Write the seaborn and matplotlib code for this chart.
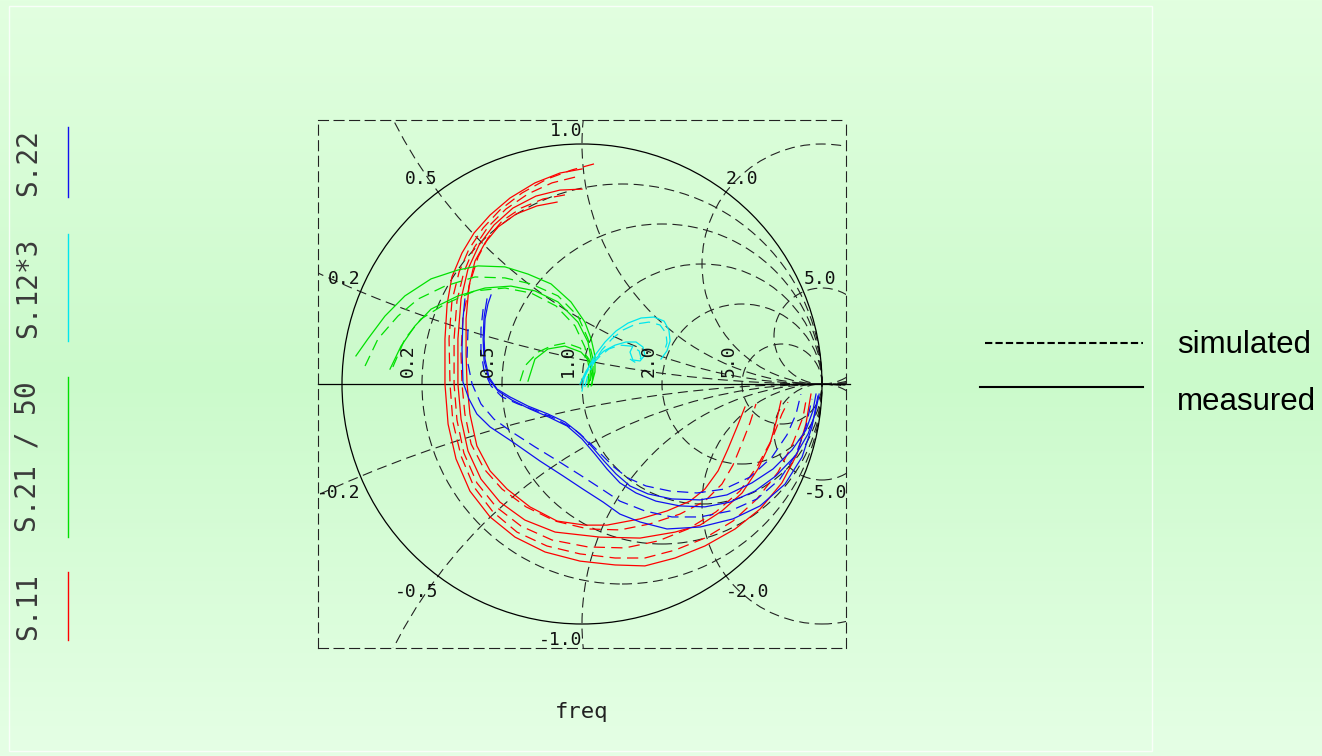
import numpy as np
import pandas as pd
import matplotlib
matplotlib.use("Agg")
import matplotlib.pyplot as plt
from matplotlib.patches import Circle, Rectangle
from matplotlib.lines import Line2D
import seaborn as sns

s11_meas_1 = [(0.0, 0.896), (-0.092, 0.879), (-0.196, 0.838), (-0.300, 0.775), (-0.383, 0.704),
              (-0.450, 0.629), (-0.500, 0.546), (-0.542, 0.446), (-0.562, 0.333), (-0.571, 0.188),
              (-0.571, 0.0), (-0.558, -0.167), (-0.525, -0.312), (-0.467, -0.446), (-0.383, -0.554),
              (-0.279, -0.638), (-0.154, -0.700), (-0.008, -0.738), (0.138, -0.754), (0.262, -0.758),
              (0.388, -0.725), (0.512, -0.675), (0.638, -0.604), (0.742, -0.521), (0.833, -0.412),
              (0.896, -0.292), (0.933, -0.167), (0.954, -0.042)]
s11_sim_1 = [(0.050, 0.917), (-0.042, 0.892), (-0.146, 0.854), (-0.250, 0.796), (-0.342, 0.725),
             (-0.412, 0.650), (-0.471, 0.562), (-0.512, 0.467), (-0.542, 0.346), (-0.554, 0.188),
             (-0.550, 0.0), (-0.538, -0.158), (-0.504, -0.300), (-0.450, -0.429), (-0.371, -0.533),
             (-0.271, -0.617), (-0.146, -0.675), (-0.008, -0.708), (0.138, -0.725), (0.262, -0.725),
             (0.388, -0.692), (0.512, -0.642), (0.629, -0.571), (0.729, -0.479), (0.817, -0.367),
             (0.879, -0.246), (0.921, -0.138), (0.933, -0.071)]
s11_meas_2 = [(0.0, 0.812), (-0.092, 0.808), (-0.192, 0.783), (-0.288, 0.733), (-0.367, 0.662),
              (-0.429, 0.579), (-0.475, 0.479), (-0.504, 0.354), (-0.517, 0.188), (-0.517, 0.0),
              (-0.504, -0.146), (-0.475, -0.279), (-0.421, -0.396), (-0.342, -0.492), (-0.238, -0.567),
              (-0.112, -0.617), (0.075, -0.638), (0.242, -0.642), (0.388, -0.617), (0.492, -0.588),
              (0.583, -0.529), (0.667, -0.454), (0.733, -0.354), (0.783, -0.250), (0.812, -0.146),
              (0.829, -0.071)]
s11_sim_2 = [(-0.029, 0.862), (-0.125, 0.838), (-0.225, 0.792), (-0.317, 0.729), (-0.392, 0.654),
             (-0.450, 0.567), (-0.492, 0.467), (-0.521, 0.346), (-0.533, 0.188), (-0.533, 0.0),
             (-0.521, -0.150), (-0.492, -0.288), (-0.438, -0.412), (-0.358, -0.512), (-0.254, -0.592),
             (-0.125, -0.650), (0.025, -0.679), (0.179, -0.683), (0.317, -0.654), (0.442, -0.604),
             (0.558, -0.533), (0.658, -0.446), (0.733, -0.338), (0.792, -0.229), (0.833, -0.125),
             (0.858, -0.075)]
s11_meas_3 = [(-0.104, 0.758), (-0.188, 0.742), (-0.275, 0.708), (-0.350, 0.654), (-0.404, 0.588),
              (-0.446, 0.512), (-0.471, 0.408), (-0.483, 0.271), (-0.483, 0.125), (-0.479, 0.0),
              (-0.467, -0.125), (-0.438, -0.258), (-0.383, -0.362), (-0.312, -0.438), (-0.217, -0.512),
              (-0.104, -0.571), (0.012, -0.588), (0.104, -0.588), (0.242, -0.562), (0.354, -0.529),
              (0.450, -0.488), (0.512, -0.438), (0.567, -0.362), (0.608, -0.271), (0.646, -0.179),
              (0.679, -0.096)]
s11_sim_3 = [(-0.071, 0.788), (-0.162, 0.771), (-0.254, 0.733), (-0.333, 0.679), (-0.392, 0.608),
             (-0.433, 0.529), (-0.467, 0.421), (-0.496, 0.279), (-0.504, 0.125), (-0.500, 0.0),
             (-0.488, -0.125), (-0.462, -0.250), (-0.408, -0.354), (-0.333, -0.438), (-0.233, -0.512),
             (-0.112, -0.571), (0.025, -0.604), (0.158, -0.608), (0.283, -0.583), (0.408, -0.542),
             (0.512, -0.488), (0.583, -0.417), (0.629, -0.338), (0.667, -0.246), (0.700, -0.162),
             (0.725, -0.083)]

s22_meas_1 = [(-0.379, 0.371), (-0.392, 0.333), (-0.404, 0.271), (-0.408, 0.188), (-0.404, 0.104),
              (-0.388, 0.029), (-0.354, -0.021), (-0.300, -0.054), (-0.225, -0.092), (-0.142, -0.125),
              (-0.071, -0.158), (-0.008, -0.208), (0.042, -0.262), (0.092, -0.321), (0.142, -0.375),
              (0.200, -0.425), (0.275, -0.458), (0.375, -0.479), (0.492, -0.483), (0.604, -0.462),
              (0.708, -0.412), (0.796, -0.354), (0.875, -0.275), (0.933, -0.192), (0.962, -0.112),
              (0.975, -0.042)]
s22_meas_2 = [(-0.396, 0.354), (-0.408, 0.279), (-0.412, 0.188), (-0.408, 0.096), (-0.388, 0.021),
              (-0.350, -0.029), (-0.292, -0.067), (-0.217, -0.104), (-0.138, -0.138), (-0.062, -0.175),
              (0.0, -0.229), (0.054, -0.292), (0.104, -0.354), (0.158, -0.412), (0.225, -0.454),
              (0.308, -0.488), (0.408, -0.508), (0.512, -0.512), (0.617, -0.492), (0.721, -0.446),
              (0.808, -0.383), (0.888, -0.300), (0.942, -0.208), (0.971, -0.125), (0.988, -0.042)]
s22_sim_1 = [(-0.412, 0.312), (-0.421, 0.229), (-0.421, 0.138), (-0.408, 0.054), (-0.379, -0.008),
             (-0.333, -0.054), (-0.267, -0.083), (-0.188, -0.112), (-0.108, -0.146), (-0.033, -0.188),
             (0.025, -0.238), (0.079, -0.292), (0.133, -0.346), (0.192, -0.392), (0.267, -0.425),
             (0.367, -0.446), (0.479, -0.454), (0.592, -0.438), (0.700, -0.388), (0.792, -0.304),
             (0.854, -0.212), (0.892, -0.125), (0.912, -0.042)]
s22_meas_3 = [(-0.488, 0.354), (-0.496, 0.271), (-0.500, 0.146), (-0.496, 0.008), (-0.471, -0.062),
              (-0.438, -0.125), (-0.383, -0.179), (-0.288, -0.242), (-0.175, -0.321), (-0.079, -0.383),
              (0.004, -0.438), (0.088, -0.492), (0.158, -0.542), (0.242, -0.575), (0.354, -0.604),
              (0.492, -0.596), (0.629, -0.562), (0.742, -0.508), (0.846, -0.417), (0.917, -0.304),
              (0.958, -0.179), (0.983, -0.050)]
s22_sim_2 = [(-0.475, 0.229), (-0.479, 0.104), (-0.458, 0.0), (-0.421, -0.083), (-0.367, -0.146),
             (-0.292, -0.200), (-0.196, -0.262), (-0.100, -0.321), (-0.008, -0.379), (0.075, -0.433),
             (0.158, -0.488), (0.262, -0.529), (0.375, -0.554), (0.492, -0.554), (0.617, -0.529),
             (0.729, -0.479), (0.825, -0.396), (0.892, -0.292), (0.933, -0.179), (0.958, -0.062)]

s21_meas_1 = [(-0.942, 0.117), (-0.892, 0.188), (-0.821, 0.283), (-0.738, 0.367), (-0.629, 0.438),
              (-0.517, 0.475), (-0.433, 0.492), (-0.321, 0.488), (-0.225, 0.458), (-0.129, 0.417),
              (-0.046, 0.342), (0.012, 0.258), (0.038, 0.188), (0.054, 0.117), (0.054, 0.050),
              (0.038, -0.008)]
s21_sim_1 = [(-0.904, 0.075), (-0.850, 0.188), (-0.767, 0.283), (-0.683, 0.354), (-0.571, 0.408),
             (-0.446, 0.446), (-0.321, 0.442), (-0.212, 0.417), (-0.100, 0.367), (-0.017, 0.283),
             (0.025, 0.188), (0.046, 0.104), (0.046, 0.021)]
s21_meas_2 = [(-0.800, 0.062), (-0.754, 0.158), (-0.696, 0.242), (-0.629, 0.312), (-0.517, 0.367),
              (-0.404, 0.400), (-0.296, 0.408), (-0.196, 0.388), (-0.100, 0.342), (-0.017, 0.258),
              (0.025, 0.175), (0.038, 0.104), (0.033, 0.021), (0.025, -0.012)]
s21_sim_2 = [(-0.788, 0.071), (-0.738, 0.188), (-0.671, 0.271), (-0.571, 0.333), (-0.446, 0.388),
             (-0.321, 0.400), (-0.212, 0.379), (-0.108, 0.325), (-0.029, 0.242), (0.012, 0.154),
             (0.029, 0.071), (0.025, 0.0)]
s21_meas_3 = [(-0.225, 0.012), (-0.196, 0.104), (-0.142, 0.146), (-0.071, 0.158), (-0.004, 0.133),
              (0.033, 0.092), (0.046, 0.042), (0.042, -0.004)]
s21_sim_3 = [(-0.258, 0.012), (-0.238, 0.075), (-0.183, 0.133), (-0.129, 0.158), (-0.067, 0.171),
             (-0.008, 0.150), (0.029, 0.104), (0.042, 0.054), (0.033, 0.004)]

s12_meas_1 = [(0.0, -0.029), (0.008, 0.021), (0.029, 0.075), (0.058, 0.125), (0.096, 0.175),
              (0.142, 0.221), (0.192, 0.254), (0.246, 0.275), (0.300, 0.279), (0.342, 0.262),
              (0.362, 0.225), (0.367, 0.179), (0.354, 0.138), (0.329, 0.104)]
s12_sim_1 = [(0.012, -0.012), (0.025, 0.038), (0.050, 0.092), (0.083, 0.142), (0.125, 0.188),
             (0.171, 0.225), (0.225, 0.250), (0.279, 0.258), (0.325, 0.246), (0.350, 0.212),
             (0.354, 0.171), (0.342, 0.133)]
s12_meas_2 = [(-0.008, 0.0), (0.017, 0.054), (0.050, 0.100), (0.092, 0.138), (0.138, 0.162),
              (0.183, 0.175), (0.225, 0.175), (0.254, 0.154), (0.262, 0.121), (0.242, 0.096),
              (0.212, 0.100), (0.200, 0.133), (0.212, 0.158)]
s12_sim_2 = [(0.004, 0.021), (0.033, 0.071), (0.071, 0.112), (0.112, 0.146), (0.158, 0.162),
             (0.204, 0.158), (0.238, 0.138), (0.246, 0.108), (0.225, 0.088), (0.200, 0.104)]

curves = [
    ("S11", "measured", s11_meas_1), ("S11", "simulated", s11_sim_1),
    ("S11", "measured", s11_meas_2), ("S11", "simulated", s11_sim_2),
    ("S11", "measured", s11_meas_3), ("S11", "simulated", s11_sim_3),
    ("S21", "measured", s21_meas_1), ("S21", "simulated", s21_sim_1),
    ("S21", "measured", s21_meas_2), ("S21", "simulated", s21_sim_2),
    ("S21", "measured", s21_meas_3), ("S21", "simulated", s21_sim_3),
    ("S12", "measured", s12_meas_1), ("S12", "simulated", s12_sim_1),
    ("S12", "measured", s12_meas_2), ("S12", "simulated", s12_sim_2),
    ("S22", "measured", s22_meas_1), ("S22", "measured", s22_meas_2),
    ("S22", "simulated", s22_sim_1), ("S22", "measured", s22_meas_3),
    ("S22", "simulated", s22_sim_2),
]

# smith chart grid values and labels
resist_vals = [0.2, 0.5, 1.0, 2.0, 5.0]
resist_labels = ["0.2", "0.5", "1.0", "2.0", "5.0"]
react_vals = [0.2, 0.5, 1.0, 2.0, 5.0]

legend_names = ["S.11", "S.21 / 50", "S.12*3", "S.22"]
palette = {"S11": "#ff0000", "S21": "#00e000", "S12": "#00e6ee", "S22": "#1010f0"}

rows = []
for i, (param, kind, pts) in enumerate(curves):
    for re, im in pts:
        rows.append({"curve": i, "param": param, "kind": kind, "re": re, "im": im})
df = pd.DataFrame(rows)

W, H = 1322, 756
fig = plt.figure(figsize=(W / 100, H / 100), dpi=100)

# soft green gradient background
bg = fig.add_axes([0, 0, 1, 1], zorder=-5)
t = np.linspace(0, 1, 300)
stops = [0, 0.5, 1]
cols = np.array([[226, 255, 224], [203, 250, 203], [229, 255, 229]]) / 255
grad = np.stack([np.interp(t, stops, cols[:, c]) for c in range(3)], axis=-1)
bg.imshow(grad[:, None, :], aspect="auto", extent=[0, 1, 0, 1])
bg.axis("off")
fig.add_artist(Rectangle((9 / W, 1 - 751 / H), 1143 / W, 745 / H, transform=fig.transFigure,
                         fill=False, ec="white", lw=1, alpha=0.8))

ax = fig.add_axes([318 / W, 108 / H, 528 / W, 528 / H])
ax.set_facecolor("none")
ax.set_xlim(-1.1, 1.1)
ax.set_ylim(-1.1, 1.1)
ax.set_xticks([])
ax.set_yticks([])
dash = (0, (9, 5))
for sp in ax.spines.values():
    sp.set_linestyle(dash)
    sp.set_linewidth(0.8)
    sp.set_color("#222222")

grid_kw = dict(fill=False, ls=dash, lw=0.8, ec="#222222")
for r in resist_vals:
    ax.add_patch(Circle((r / (1 + r), 0), 1 / (1 + r), **grid_kw))
for x in react_vals:
    for sg in (1, -1):
        ax.add_patch(Circle((1, sg / x), 1 / x, **grid_kw))
ax.add_patch(Circle((0, 0), 1, fill=False, lw=0.9, ec="black"))
ax.plot([-1.1, 1.115], [0, 0], color="black", lw=0.9, clip_on=False)

mono = "DejaVu Sans Mono"
for r, lab in zip(resist_vals, resist_labels):
    ax.text((r - 1) / (r + 1) - 0.02, 0.03, lab, rotation=90, ha="right", va="bottom",
            family=mono, fontsize=13, color="#111111")
for x, lab in zip(react_vals, resist_labels):
    g = complex(x * x - 1, 2 * x) / (x * x + 1)
    ha = "right" if x <= 1 else "left"
    ax.text(g.real, g.imag + 0.015, lab, ha=ha, va="bottom", family=mono, fontsize=13,
            color="#111111", clip_on=True)
    ax.text(g.real, -g.imag - 0.03, "-" + lab, ha=ha, va="top", family=mono, fontsize=13,
            color="#111111", clip_on=True)

sns.lineplot(data=df, x="re", y="im", hue="param", style="kind", units="curve",
             estimator=None, sort=False, palette=palette,
             dashes={"measured": "", "simulated": (9, 5)}, linewidth=0.9,
             legend=False, ax=ax)
ax.set_xlabel("")
ax.set_ylabel("")

fig.text(582 / W, 1 - 712 / H, "freq", ha="center", va="center", family=mono,
         fontsize=16, color="#222222")

# vertical trace legend on the left
leg_y = [(572, 640), (377, 537), (234, 341), (127, 197)]
for name, key, (y0, y1) in zip(legend_names, ["S11", "S21", "S12", "S22"], leg_y):
    fig.text(28 / W, 1 - (y0 + y1) / 2 / H, name, rotation=90, ha="center", va="center",
             family=mono, fontsize=20, color="#3a3a3a")
    fig.add_artist(Line2D([68 / W, 68 / W], [1 - y1 / H, 1 - y0 / H], transform=fig.transFigure,
                          color=palette[key], lw=1))

# simulated / measured key
fig.add_artist(Line2D([985 / W, 1143 / W], [1 - 343 / H] * 2, transform=fig.transFigure,
                      color="black", lw=1.5, ls=(0, (3.5, 1.5))))
fig.add_artist(Line2D([980 / W, 1143 / W], [1 - 387 / H] * 2, transform=fig.transFigure,
                      color="black", lw=1.5))
fig.text(1177 / W, 1 - 353 / H, "simulated", family="Liberation Sans", fontsize=22.5,
         va="baseline", color="black")
fig.text(1177 / W, 1 - 410 / H, "measured", family="Liberation Sans", fontsize=22.5,
         va="baseline", color="black")

fig.savefig("out.png", dpi=100)
